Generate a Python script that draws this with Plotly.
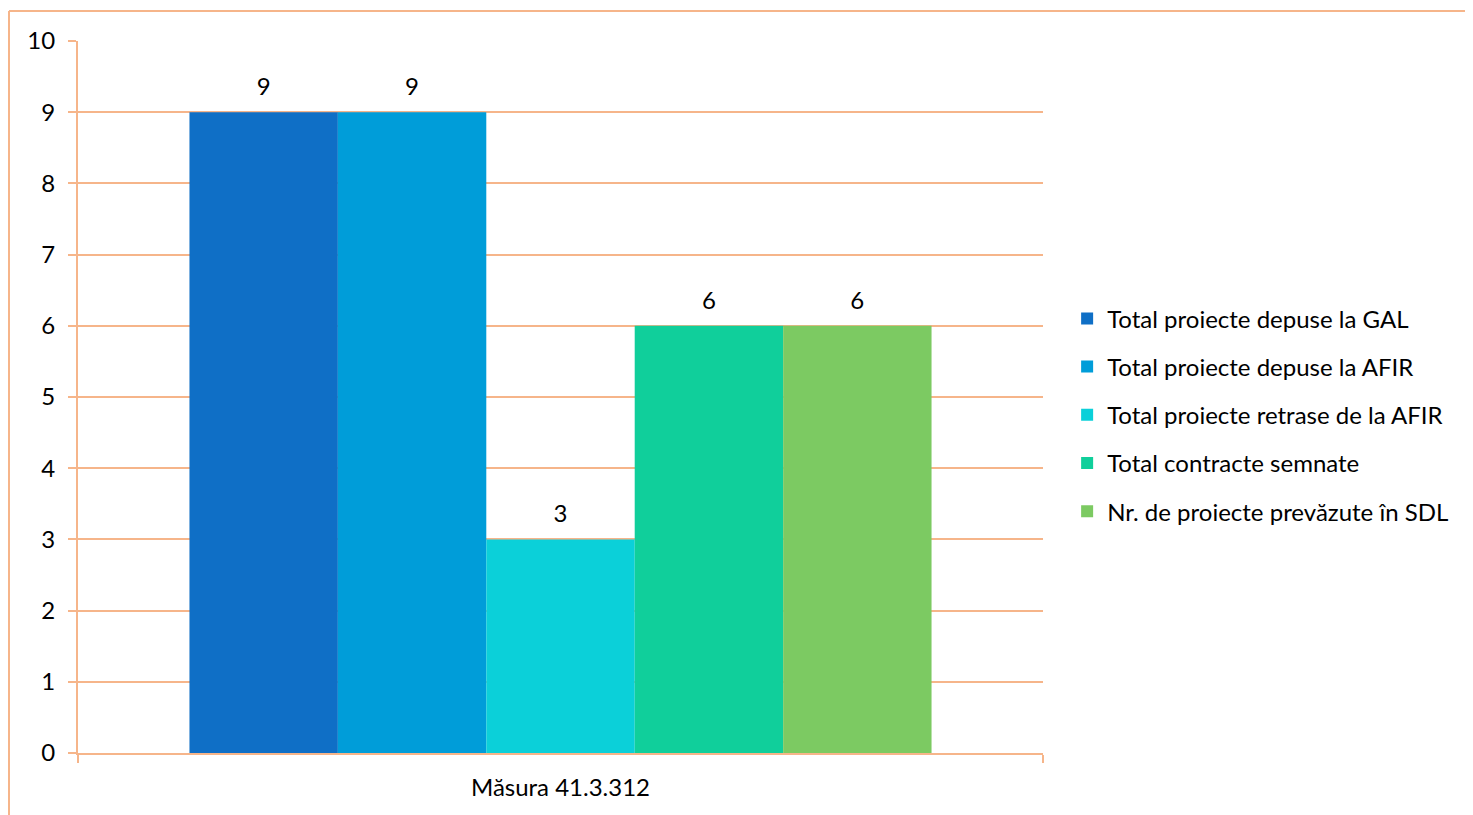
import plotly.graph_objects as go

categories = ["Măsura 41.3.312"]
series_names = [
    "Total proiecte depuse la GAL",
    "Total proiecte depuse la AFIR",
    "Total proiecte retrase de la AFIR",
    "Total contracte semnate",
    "Nr. de proiecte prevăzute în SDL",
]
series_values = [9, 9, 3, 6, 6]
colors = ["#0F6FC6", "#009DD9", "#0BD0D9", "#10CF9B", "#7CCA62"]
y_ticks = list(range(0, 11))

FONT = "Lato"
FS = 24
LINE = "#F6B58A"
GAP = 0.231

fig = go.Figure()
for i, (name, val, col) in enumerate(zip(series_names, series_values, colors)):
    fig.add_trace(go.Bar(
        x=categories, y=[val], name=name,
        marker=dict(color=col, line=dict(width=0)),
        offsetgroup=str(i),
        legendgroup=f"g{i}",
    ))
for i, val in enumerate(series_values):
    fig.add_trace(go.Scatter(
        x=categories, y=[val], mode="markers+text", text=[str(val)],
        textposition="top center", orientation="v",
        offsetgroup=str(i),
        marker=dict(size=16, color="rgba(0,0,0,0)", line=dict(width=0)),
        textfont=dict(size=FS, color="#000000", family=FONT),
        cliponaxis=False, showlegend=False, hoverinfo="skip",
    ))

fig.update_layout(
    width=1465, height=807,
    margin=dict(l=70, r=430, t=33, b=62),
    paper_bgcolor="white", plot_bgcolor="white",
    barmode="group", bargap=GAP, bargroupgap=0,
    scattermode="group", scattergap=GAP,
    font=dict(family=FONT, size=FS, color="#000000"),
    showlegend=True,
    legend=dict(
        x=1.025, xanchor="left", y=0.475, yanchor="middle",
        font=dict(size=FS, family=FONT, color="#000000"),
        traceorder="grouped", tracegroupgap=14,
        itemwidth=30, bgcolor="rgba(0,0,0,0)",
    ),
    xaxis=dict(
        showline=True, linecolor=LINE, linewidth=2,
        ticks="outside", tickson="boundaries", ticklen=8, tickcolor=LINE, tickwidth=2,
        tickfont=dict(size=FS, family=FONT, color="#000000"),
        showgrid=False, ticklabelstandoff=12,
    ),
    yaxis=dict(
        range=[0, 10], tickvals=y_ticks,
        showline=True, linecolor=LINE, linewidth=2,
        ticks="outside", ticklen=8, tickcolor=LINE, tickwidth=2,
        showgrid=True, gridcolor=LINE, gridwidth=2,
        zeroline=False,
        tickfont=dict(size=FS, family=FONT, color="#000000"),
        ticklabelstandoff=8,
    ),
    shapes=[
        dict(type="line", xref="paper", yref="paper", x0=-0.0715, x1=1.5, y0=1.042, y1=1.042,
             line=dict(color=LINE, width=2), layer="above"),
        dict(type="line", xref="paper", yref="paper", x0=-0.0715, x1=-0.0715, y0=1.042, y1=-0.2,
             line=dict(color=LINE, width=2), layer="above"),
    ],
)

fig.write_html("out.html")
